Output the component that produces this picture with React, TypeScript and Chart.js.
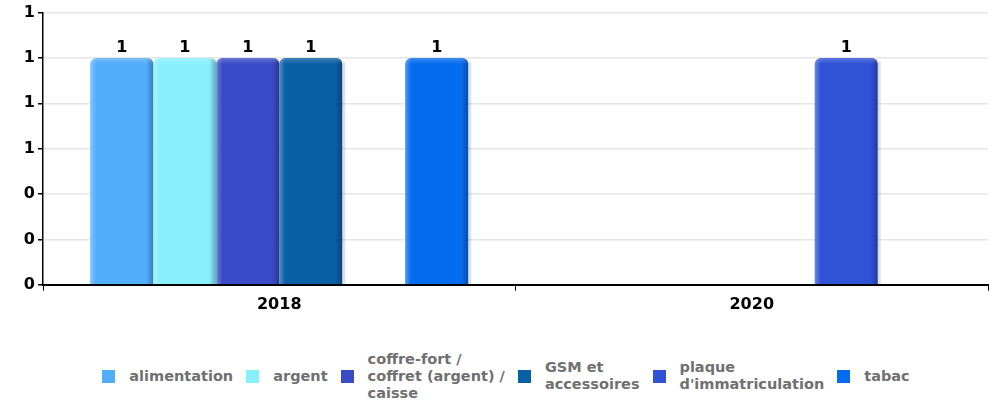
import { useEffect, useRef } from "react";
import { Chart, registerables } from "chart.js";

Chart.register(...registerables);

const categories = ["2018", "2020"];
const seriesNames = [
  "alimentation",
  "argent",
  "coffre-fort / coffret (argent) / caisse",
  "GSM et accessoires",
  "plaque d'immatriculation",
  "tabac",
];
const legendLines = [
  ["alimentation"],
  ["argent"],
  ["coffre-fort /", "coffret (argent) /", "caisse"],
  ["GSM et", "accessoires"],
  ["plaque", "d'immatriculation"],
  ["tabac"],
];
const alimentation = [1, null];
const argent = [1, null];
const coffreFort = [1, null];
const gsm = [1, null];
const plaque = [null, 1];
const tabac = [1, null];
const seriesValues = [alimentation, argent, coffreFort, gsm, plaque, tabac];
const seriesColors = ["#52AEFC", "#88F0FD", "#3A4BC8", "#0B5FA5", "#3052D6", "#066CEF"];
const yMin = 0;
const yMax = 1.2;
const yStep = 0.2;

const FONT = "'DejaVu Sans', sans-serif";

function roundedTopPath(ctx: CanvasRenderingContext2D, l: number, t: number, w: number, h: number, r: number) {
  ctx.beginPath();
  ctx.moveTo(l, t + h);
  ctx.lineTo(l, t + r);
  ctx.quadraticCurveTo(l, t, l + r, t);
  ctx.lineTo(l + w - r, t);
  ctx.quadraticCurveTo(l + w, t, l + w, t + r);
  ctx.lineTo(l + w, t + h);
  ctx.closePath();
}

const barEffects = {
  id: "barEffects",
  beforeDatasetsDraw(chart: any) {
    const ctx = chart.ctx as CanvasRenderingContext2D;
    chart.data.datasets.forEach((ds: any, di: number) => {
      const meta = chart.getDatasetMeta(di);
      meta.data.forEach((el: any, i: number) => {
        if (ds.data[i] == null) return;
        const p = el.getProps(["x", "y", "base", "width"], true);
        const right = p.x + p.width / 2;
        ctx.save();
        ctx.fillStyle = "rgba(0,0,0,0.12)";
        ctx.fillRect(right, p.y + 4, 3, p.base - p.y - 4);
        ctx.restore();
      });
    });
  },
  afterDatasetsDraw(chart: any) {
    const ctx = chart.ctx as CanvasRenderingContext2D;
    chart.data.datasets.forEach((ds: any, di: number) => {
      const meta = chart.getDatasetMeta(di);
      meta.data.forEach((el: any, i: number) => {
        const v = ds.data[i];
        if (v == null) return;
        const p = el.getProps(["x", "y", "base", "width"], true);
        const l = p.x - p.width / 2;
        const w = p.width;
        const h = p.base - p.y;
        ctx.save();
        roundedTopPath(ctx, l, p.y, w, h, 6);
        ctx.clip();
        let g = ctx.createLinearGradient(l, 0, l + 6, 0);
        g.addColorStop(0, "rgba(255,255,255,0.3)");
        g.addColorStop(1, "rgba(255,255,255,0)");
        ctx.fillStyle = g;
        ctx.fillRect(l, p.y, 6, h);
        g = ctx.createLinearGradient(l + w - 7, 0, l + w, 0);
        g.addColorStop(0, "rgba(0,0,0,0)");
        g.addColorStop(1, "rgba(0,0,0,0.28)");
        ctx.fillStyle = g;
        ctx.fillRect(l + w - 7, p.y, 7, h);
        g = ctx.createLinearGradient(0, p.y, 0, p.y + 6);
        g.addColorStop(0, "rgba(255,255,255,0.22)");
        g.addColorStop(1, "rgba(255,255,255,0)");
        ctx.fillStyle = g;
        ctx.fillRect(l, p.y, w, 6);
        ctx.restore();

        ctx.save();
        ctx.font = `bold 16px ${FONT}`;
        ctx.fillStyle = "#000";
        ctx.textAlign = "center";
        ctx.textBaseline = "bottom";
        ctx.fillText(String(Math.round(v)), p.x, p.y - 2);
        ctx.restore();
      });
    });
  },
};

export default function App() {
  const ref = useRef<HTMLCanvasElement | null>(null);
  useEffect(() => {
    document.body.style.margin = "0";
    if (!ref.current) return;
    const chart = new Chart(ref.current, {
      type: "bar",
      data: {
        labels: categories,
        datasets: seriesNames.map((name, i) => ({
          label: name,
          data: seriesValues[i],
          backgroundColor: seriesColors[i],
          borderWidth: 0,
          borderRadius: 6,
          borderSkipped: "bottom",
          categoryPercentage: 0.8,
          barPercentage: 1.0,
        })),
      },
      options: {
        animation: false,
        responsive: true,
        maintainAspectRatio: false,
        layout: { padding: { left: 0, right: 6, top: 4, bottom: 2 } },
        plugins: {
          tooltip: { enabled: false },
          legend: { display: false },
        },
        scales: {
          x: {
            grid: {
              display: true,
              drawOnChartArea: false,
              drawTicks: true,
              tickLength: 6,
              tickColor: "#000",
              offset: true,
            },
            border: { color: "#000", width: 2 },
            ticks: {
              color: "#000",
              padding: 4,
              font: { family: FONT, size: 16, weight: "bold" },
            },
          },
          y: {
            min: yMin,
            max: yMax,
            afterFit: (s: any) => {
              s.width = 43;
            },
            grid: {
              color: "#e6e6e6",
              lineWidth: 1.5,
              tickLength: 5,
              tickColor: "#000",
            },
            border: { color: "#000", width: 1.5 },
            ticks: {
              stepSize: yStep,
              color: "#000",
              padding: 3,
              font: { family: FONT, size: 16, weight: "bold" },
              callback: (v: any) => String(Math.round(Number(v))),
            },
          },
        },
      },
      plugins: [barEffects],
    });
    return () => chart.destroy();
  }, []);
  return (
    <div style={{ width: 994, height: 402, position: "relative", fontFamily: FONT }}>
      <div style={{ position: "absolute", left: 0, top: 0, width: 994, height: 320 }}>
        <canvas ref={ref} />
      </div>
      <div
        style={{
          position: "absolute",
          left: 18,
          top: 344,
          width: 976,
          height: 64,
          display: "flex",
          justifyContent: "center",
          alignItems: "center",
        }}
      >
        {legendLines.map((lines, i) => (
          <div key={i} style={{ display: "flex", alignItems: "center", marginRight: i < legendLines.length - 1 ? 13 : 0 }}>
            <span
              style={{
                display: "inline-block",
                width: 13,
                height: 13,
                background: seriesColors[i],
                marginRight: 14,
                flex: "none",
              }}
            />
            <span
              style={{
                color: "#707070",
                fontWeight: "bold",
                fontSize: 14.5,
                lineHeight: "17px",
                whiteSpace: "nowrap",
              }}
            >
              {lines.map((t, j) => (
                <div key={j}>{t}</div>
              ))}
            </span>
          </div>
        ))}
      </div>
    </div>
  );
}
